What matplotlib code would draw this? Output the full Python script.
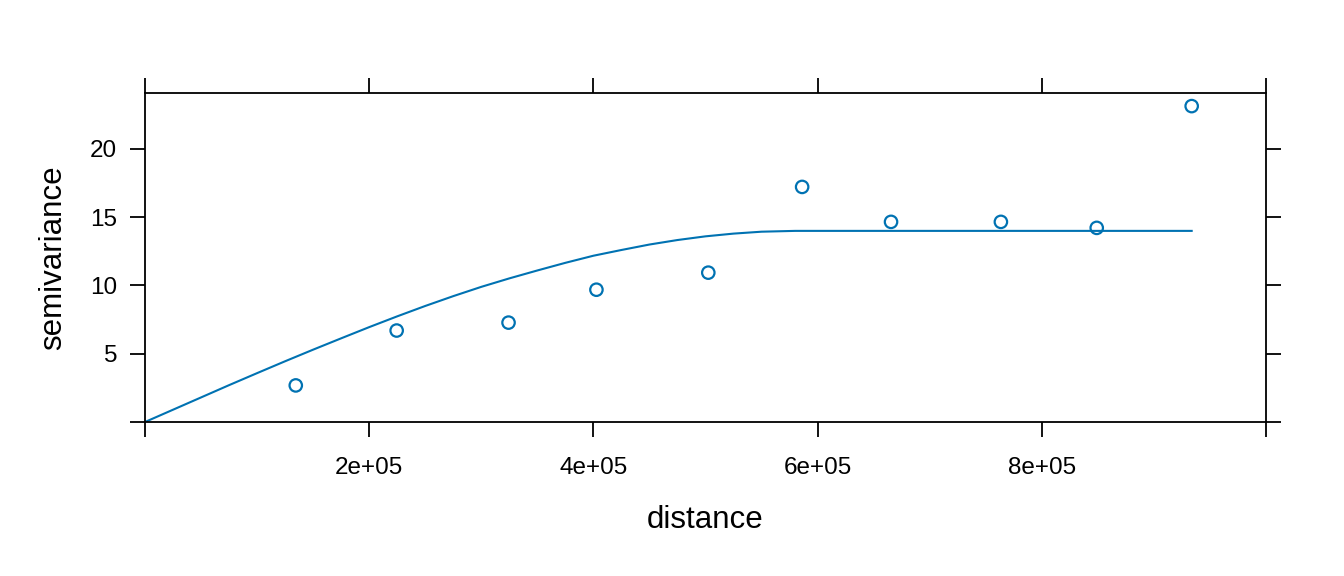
import matplotlib
matplotlib.use("Agg")
import matplotlib.pyplot as plt

plt.rcParams['font.family'] = ['Liberation Sans', 'DejaVu Sans']

# sample variogram points
dist = [134500, 224500, 324300, 402700, 502500, 586200, 665500, 763500, 849000, 933700]
gamma = [2.68, 6.70, 7.28, 9.69, 10.94, 17.22, 14.66, 14.66, 14.22, 23.14]

# fitted model line
line_dist = [0, 25000, 50000, 75000, 100000, 125000, 150000, 175000, 200000, 225000,
             250000, 275000, 300000, 325000, 350000, 375000, 400000, 425000, 450000,
             475000, 500000, 525000, 550000, 580000, 933700]
line_gamma = [0, 0.9, 1.8, 2.7, 3.58, 4.45, 5.3, 6.13, 6.95, 7.74,
              8.5, 9.22, 9.9, 10.52, 11.1, 11.66, 12.18, 12.6, 13.0,
              13.33, 13.6, 13.8, 13.94, 14.0, 14.0]

xticks = [0, 200000, 400000, 600000, 800000, 1000000]
xlabels = ['', '2e+05', '4e+05', '6e+05', '8e+05', '']
yticks = [0, 5, 10, 15, 20]
ylabels = ['', '5', '10', '15', '20']

col = '#0072B2'

fig = plt.figure(figsize=(13.44, 5.76), dpi=100)
ax = fig.add_axes([145/1344, 1 - 422/576, (1266-145)/1344, (422-93)/576])

ax.plot(line_dist, line_gamma, color=col, lw=1.5)
ax.scatter(dist, gamma, s=80, facecolors='none', edgecolors=col, linewidths=1.6, zorder=3)

ax.set_xlim(0, 1000000)
ax.set_ylim(0, 24.1)
ax.set_xticks(xticks)
ax.set_xticklabels(xlabels)
ax.set_yticks(yticks)
ax.set_yticklabels(ylabels)
ax.tick_params(direction='out', length=11, width=1.3, labelsize=17.5,
               top=True, right=True, labeltop=False, labelright=False)
ax.tick_params(axis='x', pad=14)
ax.tick_params(axis='y', pad=9)
for s in ax.spines.values():
    s.set_linewidth(1.3)

ax.set_xlabel('distance', fontsize=22.5, labelpad=19)
ax.set_ylabel('semivariance', fontsize=22.5, labelpad=16)

fig.savefig('out.png', dpi=100)
